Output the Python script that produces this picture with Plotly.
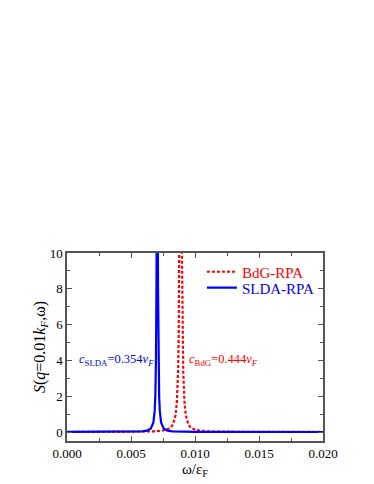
import plotly.graph_objects as go

# Data (omega/eps_F, S)
x_slda = [0.0, 0.002, 0.004, 0.005, 0.00585, 0.00625, 0.00655, 0.00675, 0.00685, 0.0069,
          0.00695, 0.00699, 0.00702, 0.00705, 0.00708, 0.00711, 0.00715, 0.0072, 0.00725,
          0.00735, 0.00755, 0.00785, 0.00825, 0.00905, 0.010, 0.012, 0.015, 0.020]
y_slda = [0.005, 0.006, 0.009, 0.013, 0.035, 0.078, 0.2, 0.54, 1.18, 2.0,
          4.0, 8.2, 14.7, 20.0, 14.7, 8.2, 4.0, 2.0, 1.18,
          0.54, 0.2, 0.078, 0.035, 0.0125, 0.008, 0.005, 0.003, 0.002]

x_bdg = [0.0, 0.002, 0.004, 0.006, 0.0069, 0.00768, 0.00808, 0.00828, 0.00848, 0.00858,
         0.00868, 0.00873, 0.00878, 0.00883, 0.00888, 0.00893, 0.00898, 0.00903, 0.00908,
         0.00918, 0.00928, 0.00948, 0.00968, 0.01008, 0.01088, 0.012, 0.015, 0.020]
y_bdg = [0.002, 0.003, 0.005, 0.012, 0.035, 0.11, 0.24, 0.43, 0.95, 1.64,
         3.4, 5.6, 10.0, 19.0, 25.0, 19.0, 10.0, 5.6, 3.4,
         1.64, 0.95, 0.43, 0.24, 0.11, 0.04, 0.02, 0.008, 0.004]

x_ticks = [0.000, 0.005, 0.010, 0.015, 0.020]
x_tick_labels = ["0.000", "0.005", "0.010", "0.015", "0.020"]
y_ticks = [0, 2, 4, 6, 8, 10]

RED = "#ff0000"
BLUE = "#0000ff"
FONT = "Times New Roman, Liberation Serif, serif"

fig = go.Figure()
fig.add_trace(go.Scatter(x=x_bdg, y=y_bdg, mode="lines", legend="legend",
                         name="<span style='color:#ff0000'>BdG-RPA</span>",
                         line=dict(color=RED, width=2.2, dash="3px,2px")))
fig.add_trace(go.Scatter(x=x_slda, y=y_slda, mode="lines", legend="legend2",
                         name="<span style='color:#0000ff'>SLDA-RPA</span>",
                         line=dict(color=BLUE, width=2.2)))

axis_common = dict(showline=True, linecolor="#555555", linewidth=1.5, mirror="allticks",
                   ticks="inside", ticklen=5, tickwidth=1, tickcolor="#555555",
                   showgrid=False, zeroline=False,
                   tickfont=dict(family=FONT, size=13, color="black"))

fig.update_xaxes(range=[0, 0.02], tickvals=x_ticks, ticktext=x_tick_labels,
                 minor=dict(ticks="inside", dtick=0.0025, ticklen=3, tickcolor="#555555"),
                 title=dict(text="ω/ε<sub>F</sub>", font=dict(family=FONT, size=15, color="black"),
                            standoff=0),
                 **axis_common)
fig.update_yaxes(range=[-0.5, 10], tickvals=y_ticks,
                 minor=dict(ticks="inside", dtick=1, ticklen=3, tickcolor="#555555"),
                 title=dict(text="<i>S</i>(<i>q</i>=0.01<i>k<sub>F</sub></i>,ω)",
                            font=dict(family=FONT, size=16, color="black"), standoff=0),
                 **axis_common)

fig.add_annotation(x=0.00385, y=4.0, xref="x", yref="y", showarrow=False,
                   xanchor="center", yanchor="middle",
                   text="<i>c</i><sub>SLDA</sub>=0.354<i>v<sub>F</sub></i>",
                   font=dict(family=FONT, size=12.5, color=BLUE))
fig.add_annotation(x=0.0122, y=4.0, xref="x", yref="y", showarrow=False,
                   xanchor="center", yanchor="middle",
                   text="<i>c</i><sub>BdG</sub>=0.444<i>v<sub>F</sub></i>",
                   font=dict(family=FONT, size=12.5, color=RED))

legend_common = dict(xanchor="left", yanchor="middle", bgcolor="rgba(0,0,0,0)",
                     font=dict(family=FONT, size=15), borderwidth=0)

# page body adds an 8px offset; margins compensate for it
fig.update_layout(
    width=374, height=484,
    margin=dict(l=59, r=59, t=245, b=51),
    plot_bgcolor="white", paper_bgcolor="white",
    font=dict(family=FONT),
    showlegend=True,
    legend=dict(x=0.527, y=0.899, **legend_common),
    legend2=dict(x=0.527, y=0.814, **legend_common),
)

fig.write_html("out.html")
